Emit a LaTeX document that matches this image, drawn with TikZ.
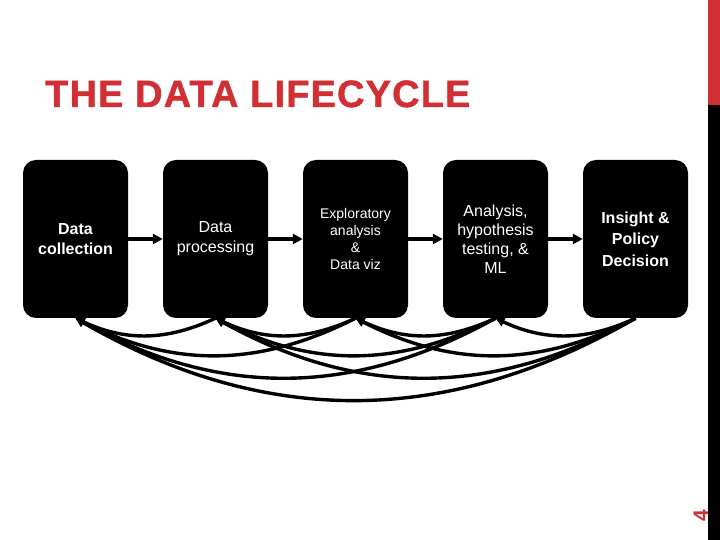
\documentclass[tikz,border=0pt]{standalone}
\usepackage{fontspec}
\setmainfont{Liberation Sans}
\newfontfamily\titlefont[LetterSpace=3, FakeBold=1.2]{Liberation Sans Bold}
\usepackage{xcolor}
\usetikzlibrary{arrows.meta,positioning}
\definecolor{slidered}{HTML}{D12F34}
\tikzset{
  stagenode/.style={rectangle, rounded corners=13pt, draw=none, fill=black,
    minimum width=105pt, minimum height=158pt, inner sep=0pt, text=white, align=center},
  flowedge/.style={-{Triangle[length=10pt, width=10pt]}, draw=black, line width=3.6pt},
  feedbackedge/.style={-{Triangle[length=9pt, width=9pt]}, draw=black, line width=3.4pt},
}
\begin{document}
\begin{tikzpicture}[x=1pt, y=1pt]
  \useasboundingbox (0,0) rectangle (720,540);
  % side bar and page number
  \fill[black] (708,0) rectangle (720,540);
  \fill[slidered] (708,435) rectangle (720,540);
  \node[text=slidered, rotate=90, anchor=base, inner sep=0pt,
    font=\bfseries\fontsize{21}{22}\selectfont] (pagenum) at (708,24) {4};
  % title
  \node[text=slidered, anchor=base west, inner sep=0pt,
    font=\titlefont\fontsize{38}{40}\selectfont] (title) at (45,433) {THE DATA LIFECYCLE};
  % stages
  \node[stagenode, font=\bfseries\fontsize{16}{20}\selectfont] (collect) at (75.5,301) {Data\\collection};
  \node[stagenode, font=\fontsize{16}{20}\selectfont] (process) at (215.5,301) {Data\\processing};
  \node[stagenode, font=\fontsize{14}{17}\selectfont] (explore) at (355.5,301) {Exploratory\\analysis\\\&\\Data viz};
  \node[stagenode, font=\fontsize{16}{19}\selectfont] (analyse) at (495.5,301) {Analysis,\\hypothesis\\testing, \&\\ML};
  \node[stagenode, font=\bfseries\fontsize{16}{21.5}\selectfont] (decide) at (635.5,301) {Insight \&\\Policy\\Decision};
  % forward flow
  \draw[flowedge] (collect) -- (process);
  \draw[flowedge] (process) -- (explore);
  \draw[flowedge] (explore) -- (analyse);
  \draw[flowedge] (analyse) -- (decide);
  % feedback loops
  \draw[feedbackedge] (process.south) to[bend left=25] (collect.south);
  \draw[feedbackedge] (explore.south) to[bend left=25] (process.south);
  \draw[feedbackedge] (analyse.south) to[bend left=25] (explore.south);
  \draw[feedbackedge] (decide.south) to[bend left=25] (analyse.south);
  \draw[feedbackedge] (explore.south) to[bend left=27] (collect.south);
  \draw[feedbackedge] (analyse.south) to[bend left=27] (process.south);
  \draw[feedbackedge] (decide.south) to[bend left=27] (explore.south);
  \draw[feedbackedge] (analyse.south) to[bend left=29] (collect.south);
  \draw[feedbackedge] (decide.south) to[bend left=29] (process.south);
  \draw[feedbackedge] (decide.south) to[bend left=30] (collect.south);
\end{tikzpicture}
\end{document}
